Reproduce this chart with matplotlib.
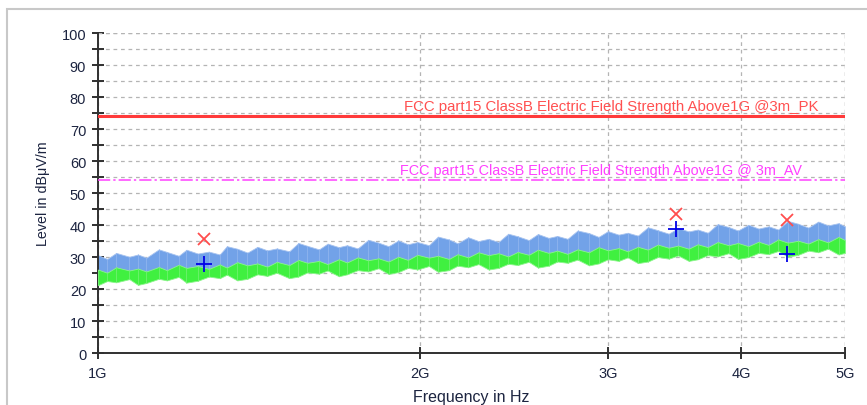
import numpy as np
import matplotlib
matplotlib.use("Agg")
import matplotlib.pyplot as plt
from matplotlib.patches import Rectangle
from matplotlib.ticker import FixedLocator, NullLocator, MultipleLocator

plt.rcParams['font.family'] = ['Liberation Sans', 'DejaVu Sans']

# sweep frequencies (GHz) and trace envelopes (dBuV/m)
freq_ghz = [1.00, 1.02, 1.04, 1.07, 1.09, 1.11, 1.14, 1.16, 1.19, 1.21,
            1.24, 1.27, 1.30, 1.32, 1.35, 1.38, 1.41, 1.44, 1.47, 1.51,
            1.54, 1.57, 1.61, 1.64, 1.68, 1.71, 1.75, 1.79, 1.83, 1.87,
            1.91, 1.95, 1.99, 2.04, 2.08, 2.13, 2.17, 2.22, 2.27, 2.32,
            2.37, 2.42, 2.47, 2.53, 2.58, 2.64, 2.69, 2.75, 2.81, 2.88,
            2.94, 3.00, 3.07, 3.13, 3.20, 3.27, 3.34, 3.42, 3.49, 3.57,
            3.64, 3.72, 3.80, 3.89, 3.97, 4.06, 4.15, 4.24, 4.33, 4.42,
            4.52, 4.62, 4.72, 4.82, 4.93, 5.00]
# peak trace (blue)
pk_top = [30.6, 29.4, 31.3, 30.1, 30.8, 29.8, 32.4, 31.6, 30.4, 32.3,
          31.1, 31.7, 30.8, 33.4, 32.6, 31.4, 33.2, 32.1, 32.7, 31.8,
          34.4, 33.5, 32.4, 34.2, 33.1, 33.7, 32.7, 35.4, 34.5, 33.4,
          35.2, 34.0, 34.7, 33.7, 36.4, 35.5, 34.3, 36.2, 35.0, 35.7,
          34.7, 37.3, 36.5, 35.3, 37.2, 36.0, 36.6, 35.7, 38.3, 37.5,
          36.3, 38.1, 37.0, 37.6, 36.7, 39.3, 38.4, 37.3, 39.1, 38.0,
          38.6, 37.6, 40.3, 39.4, 38.3, 40.1, 38.9, 39.6, 38.6, 41.3,
          40.4, 39.2, 41.1, 39.9, 40.6, 39.6]
pk_bot = [24.6, 24.7, 24.9, 25.0, 25.1, 25.3, 25.4, 25.5, 25.7, 25.8,
          25.9, 26.1, 26.2, 26.3, 26.4, 26.6, 26.7, 26.8, 27.0, 27.1,
          27.2, 27.4, 27.5, 27.6, 27.8, 27.9, 28.0, 28.2, 28.3, 28.4,
          28.6, 28.7, 28.8, 29.0, 29.1, 29.2, 29.4, 29.5, 29.6, 29.7,
          29.9, 30.0, 30.1, 30.3, 30.4, 30.5, 30.7, 30.8, 30.9, 31.1,
          31.2, 31.3, 31.5, 31.6, 31.7, 31.9, 32.0, 32.1, 32.3, 32.4,
          32.5, 32.6, 32.8, 32.9, 33.0, 33.2, 33.3, 33.4, 33.6, 33.7,
          33.8, 34.0, 34.1, 34.2, 34.4, 34.5]
# average trace (green)
av_top = [26.1, 25.1, 26.8, 25.8, 26.4, 25.5, 26.9, 25.9, 27.6, 26.6,
          27.2, 26.3, 27.7, 26.7, 28.4, 27.4, 28.0, 27.0, 28.5, 27.5,
          29.1, 28.2, 28.8, 27.8, 29.3, 28.3, 29.9, 29.0, 29.6, 28.6,
          30.1, 29.1, 30.7, 29.8, 30.4, 29.4, 30.9, 29.9, 31.5, 30.6,
          31.2, 30.2, 31.6, 30.7, 32.3, 31.3, 32.0, 31.0, 32.4, 31.5,
          33.1, 32.1, 32.8, 31.8, 33.2, 32.3, 33.9, 32.9, 33.6, 32.6,
          34.0, 33.1, 34.7, 33.7, 34.4, 33.4, 34.8, 33.8, 35.5, 34.5,
          35.1, 34.2, 35.6, 34.6, 36.3, 35.3]
av_bot = [21.2, 22.5, 22.1, 23.1, 21.3, 21.9, 23.2, 22.7, 23.8, 22.0,
          22.6, 23.9, 23.4, 24.5, 22.7, 23.2, 24.6, 24.1, 25.1, 23.4,
          23.9, 25.2, 24.8, 25.8, 24.0, 24.6, 25.9, 25.5, 26.5, 24.7,
          25.3, 26.6, 26.1, 27.2, 25.4, 25.9, 27.3, 26.8, 27.8, 26.1,
          26.6, 27.9, 27.5, 28.5, 26.7, 27.3, 28.6, 28.2, 29.2, 27.4,
          28.0, 29.3, 28.8, 29.9, 28.1, 28.6, 30.0, 29.5, 30.5, 28.8,
          29.3, 30.6, 30.2, 31.2, 29.4, 30.0, 31.3, 30.9, 31.9, 30.1,
          30.7, 32.0, 31.5, 32.6, 30.8, 31.3]

# final measurement points
peak_f = [1.256, 3.474, 4.413]
peak_lvl = [35.6, 43.4, 41.6]
avg_f = [1.256, 3.474, 4.413]
avg_lvl = [27.8, 38.7, 30.9]

limit_pk = 74
limit_av = 54
label_pk = "FCC part15 ClassB Electric Field Strength Above1G @3m_PK"
label_av = "FCC part15 ClassB Electric Field Strength Above1G @ 3m_AV"

xticks_ghz = [1, 2, 3, 4, 5]
xtick_labels = ["1G", "2G", "3G", "4G", "5G"]

f = np.array(freq_ghz) * 1e9

fig = plt.figure(figsize=(8.67, 4.06), dpi=100)
fig.patches.append(Rectangle((0.008, -0.1), 1.1, 1.0754, transform=fig.transFigure,
                             fill=False, edgecolor='#c8c8c8', lw=1.5))
ax = fig.add_axes([0.113, 0.128, 0.8617, 0.788])

ax.fill_between(f, pk_bot, pk_top, color='#72a2e8', lw=0.6, edgecolor='#a8c4f0', zorder=2)
ax.vlines(f, pk_bot, pk_top, color='#8fb4ee', lw=0.6, zorder=2)
ax.fill_between(f, av_bot, av_top, color='#40f040', lw=0.6, edgecolor='#8cf58c', zorder=3)
ax.vlines(f, av_bot, av_top, color='#6ff26f', lw=0.6, zorder=3)

ax.axhline(limit_pk, color='#ff3a3a', lw=2.2, zorder=4)
ax.axhline(limit_av, color='#ff40ff', lw=1.1, ls=(0, (8, 2, 1.5, 2)), zorder=4)
ax.text(4.718e9, limit_pk + 1.0, label_pk, color='#ff5050', ha='right', va='bottom',
        fontsize=10.8, zorder=5)
ax.text(4.558e9, limit_av + 1.0, label_av, color='#ff40ff', ha='right', va='bottom',
        fontsize=10.4, zorder=5)

ax.plot(np.array(peak_f) * 1e9, peak_lvl, ls='none', marker='x', ms=9, mew=1.3,
        color='#ff4d4d', zorder=6)
ax.plot(np.array(avg_f) * 1e9, avg_lvl, ls='none', marker='+', ms=12, mew=1.3,
        color='#0000e6', zorder=6)

ax.set_xscale('log')
ax.set_xlim(1e9, 5e9)
ax.set_ylim(0, 100)
ax.xaxis.set_major_locator(FixedLocator([v * 1e9 for v in xticks_ghz]))
ax.xaxis.set_minor_locator(NullLocator())
ax.set_xticklabels(xtick_labels)
ax.yaxis.set_major_locator(MultipleLocator(10))
ax.yaxis.set_minor_locator(MultipleLocator(5))

ax.grid(which='both', axis='y', color='#b4b4b4', ls=(0, (3, 3)), lw=0.9)
ax.grid(which='major', axis='x', color='#b4b4b4', ls=(0, (3, 3)), lw=0.9)
ax.set_axisbelow(True)

for s in ['top', 'right']:
    ax.spines[s].set_visible(False)
for s in ['left', 'bottom']:
    ax.spines[s].set_color('#303030')
    ax.spines[s].set_linewidth(1.4)

ax.tick_params(which='both', direction='inout', length=9, width=1.4, color='#303030',
               labelsize=10.5, labelcolor='#1c2440')
ax.tick_params(axis='x', pad=5)
ax.tick_params(axis='y', pad=4)

# dashed borders at top and right
ax.axhline(100, color='#b4b4b4', ls=(0, (3, 3)), lw=0.9, zorder=1)
ax.axvline(5e9, color='#b4b4b4', ls=(0, (3, 3)), lw=0.9, zorder=1)

ax.set_xlabel("Frequency in Hz", fontsize=11.5, color='#1c2440', labelpad=6)
ax.set_ylabel("Level in dBμV/m", fontsize=10.3, color='#1c2440', labelpad=8)

fig.savefig("out.png", dpi=100)
